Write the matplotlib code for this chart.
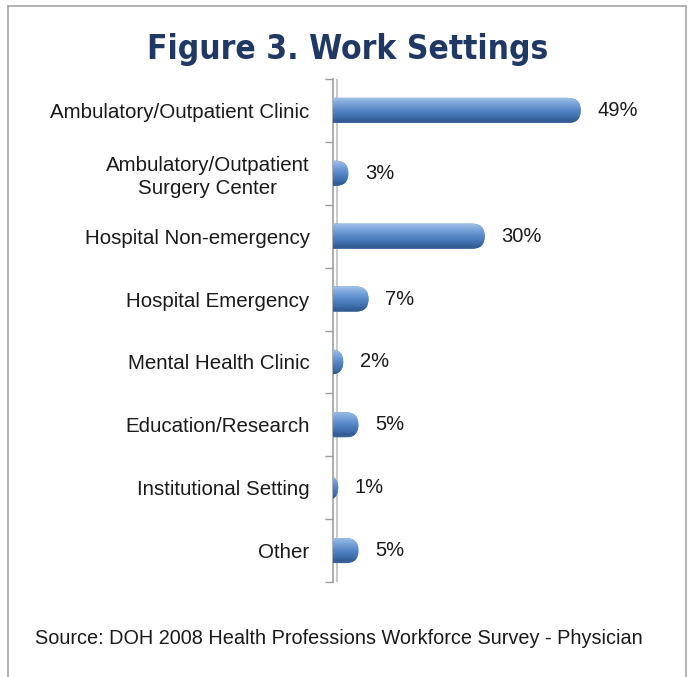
import numpy as np
import matplotlib
matplotlib.use("Agg")
from matplotlib import pyplot as plt
from matplotlib.patches import FancyBboxPatch
from matplotlib.colors import LinearSegmentedColormap
from matplotlib.lines import Line2D

categories = ["Ambulatory/Outpatient Clinic",
              "Ambulatory/Outpatient\nSurgery Center",
              "Hospital Non-emergency",
              "Hospital Emergency",
              "Mental Health Clinic",
              "Education/Research",
              "Institutional Setting",
              "Other"]
values = [49, 3, 30, 7, 2, 5, 1, 5]
labels = ["49%", "3%", "30%", "7%", "2%", "5%", "1%", "5%"]

plt.rcParams['font.family'] = ['Liberation Sans', 'DejaVu Sans']

fig = plt.figure(figsize=(6.89, 6.77), dpi=100)
ax = fig.add_axes([0.4835, 0.1403, 0.44, 0.743])

n = len(categories)
ys = np.arange(n)
xmax = 60
ax.set_xlim(0, xmax)
ax.set_ylim(n - 0.5, -0.5)

# bar shape: rounded right end, flat at the axis
h = 0.40
bbox = ax.get_position()
px_x = bbox.width * fig.get_figwidth() * fig.dpi / xmax
px_y = bbox.height * fig.get_figheight() * fig.dpi / n
aspect = px_x / px_y
r = (h / 2) / aspect

cmap = LinearSegmentedColormap.from_list(
    "cyl", [(0, "#a3c2ea"), (0.2, "#80a9de"), (0.5, "#5687c8"),
            (0.8, "#3d6caa"), (0.92, "#305a90"), (1, "#3e679b")])
grad = np.linspace(0, 1, 64).reshape(-1, 1)

for y, v, lab in zip(ys, values, labels):
    x0 = -6
    patch = FancyBboxPatch((x0, y - h / 2), v - x0, h,
                           boxstyle="round,pad=0,rounding_size=%f" % r,
                           mutation_aspect=aspect, facecolor="#4f81bd",
                           edgecolor="none", zorder=2)
    ax.add_patch(patch)
    im = ax.imshow(grad, cmap=cmap, aspect="auto",
                   extent=(x0, v, y + h / 2, y - h / 2), zorder=3,
                   interpolation="bicubic")
    im.set_clip_path(patch)
    ax.text(v + 3.3, y, lab, va="center", ha="left", fontsize=14.5, color="#1a1a1a")

ax.set_xlim(0, xmax)
ax.set_ylim(n - 0.5, -0.5)

ax.set_yticks(ys)
ax.set_yticklabels(categories, fontsize=14.8, color="#1a1a1a", ha="right",
                   multialignment="center", linespacing=1.25)
ax.tick_params(axis="y", which="major", length=0, pad=17)
ax.set_yticks(np.arange(n + 1) - 0.5, minor=True)
ax.tick_params(axis="y", which="minor", length=6, width=1, color="#9a9a9a")
ax.set_xticks([])
for s in ["top", "right", "bottom"]:
    ax.spines[s].set_visible(False)
ax.spines["left"].set_color("#a0a0a0")
ax.spines["left"].set_linewidth(1.2)
ax.axvline(0.75, color="#c0c0c0", lw=1.2, zorder=1)

# frame around the figure
frame = "#a6a6a6"
fig.add_artist(Line2D([0.012, 0.012], [0, 0.991], color=frame, lw=1.2,
                      transform=fig.transFigure))
fig.add_artist(Line2D([0.996, 0.996], [0, 0.991], color=frame, lw=1.2,
                      transform=fig.transFigure))
fig.add_artist(Line2D([0.012, 0.996], [0.991, 0.991], color=frame, lw=1.2,
                      transform=fig.transFigure))

fig.text(0.505, 0.9129, "Figure 3. Work Settings", ha="center", va="baseline",
         fontsize=24, fontweight="bold", color="#1f3864",
         family=["DejaVu Sans"], fontstretch="condensed")
fig.text(0.492, 0.0576, "Source: DOH 2008 Health Professions Workforce Survey - Physician",
         ha="center", va="center", fontsize=14.3, color="#1a1a1a")

fig.savefig("out.png", dpi=100)
